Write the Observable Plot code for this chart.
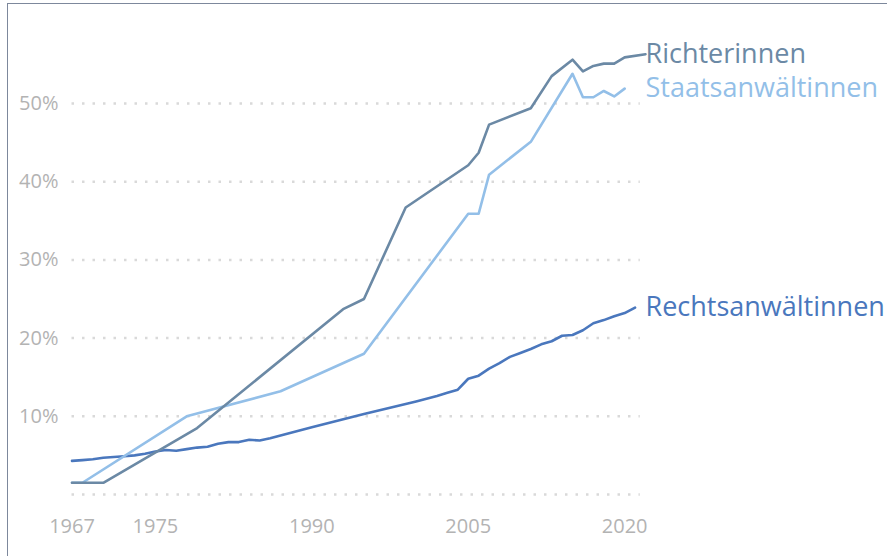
<!DOCTYPE html>
<html>
<head>
<meta charset="utf-8">
<script src="https://cdn.jsdelivr.net/npm/d3@7"></script>
<script src="https://cdn.jsdelivr.net/npm/@observablehq/plot@0.6"></script>
<style>
  html, body { margin: 0; padding: 0; background: #fff; }
  #wrap { position: relative; width: 887px; height: 556px; overflow: hidden; }
  #frame { position: absolute; left: 7px; top: 3px; right: -5px; bottom: -5px;
           border-left: 1.5px solid #7d889c; border-top: 1.5px solid #7d889c; pointer-events: none; }
  svg { display: block; }
</style>
</head>
<body>
<div id="wrap"><div id="frame"></div></div>
<script>
// Richterinnen (judges), share of women in %
const richterYears  = [1967, 1968, 1970, 1979, 1993, 1995, 1999, 2005, 2006, 2007, 2011, 2013, 2015, 2016, 2017, 2018, 2019, 2020, 2022];
const richterValues = [1.5, 1.5, 1.5, 8.5, 23.7, 25.0, 36.7, 42.1, 43.7, 47.3, 49.4, 53.5, 55.6, 54.1, 54.8, 55.1, 55.1, 55.9, 56.3];

// Staatsanwältinnen (prosecutors)
const staatsYears  = [1967, 1968, 1978, 1987, 1995, 2005, 2006, 2007, 2011, 2015, 2016, 2017, 2018, 2019, 2020];
const staatsValues = [1.5, 1.5, 10.0, 13.2, 18.0, 35.9, 35.9, 40.9, 45.1, 53.8, 50.8, 50.8, 51.6, 50.9, 51.9];

// Rechtsanwältinnen (lawyers)
const rechtsYears  = [1967, 1968, 1969, 1970, 1971, 1972, 1973, 1974, 1975, 1976, 1977, 1978, 1979, 1980, 1981, 1982, 1983, 1984, 1985, 1986,
                      1990, 1995, 2000, 2002, 2003, 2004, 2005, 2006, 2007, 2008, 2009, 2010, 2011, 2012, 2013, 2014, 2015, 2016, 2017, 2018, 2019, 2020, 2021];
const rechtsValues = [4.3, 4.4, 4.5, 4.7, 4.8, 4.9, 5.0, 5.2, 5.5, 5.7, 5.6, 5.8, 6.0, 6.1, 6.5, 6.7, 6.7, 7.0, 6.9, 7.2,
                      8.6, 10.3, 11.9, 12.6, 13.0, 13.4, 14.8, 15.2, 16.1, 16.8, 17.6, 18.1, 18.6, 19.2, 19.6, 20.3, 20.4, 21.0, 21.9, 22.3, 22.8, 23.2, 23.9];

const seriesNames  = ["Rechtsanwältinnen", "Staatsanwältinnen", "Richterinnen"];
const seriesColors = ["#4a77bd", "#93bfe8", "#6b89a5"];

const xTicks = [1967, 1975, 1990, 2005, 2020];
const yTicks = [10, 20, 30, 40, 50];
const gridValues = [0, 10, 20, 30, 40, 50];

const toRows = (name, ys, vs) => ys.map((y, i) => ({series: name, year: y, value: vs[i]}));
const rows = [
  ...toRows("Rechtsanwältinnen", rechtsYears, rechtsValues),
  ...toRows("Staatsanwältinnen", staatsYears, staatsValues),
  ...toRows("Richterinnen", richterYears, richterValues)
];
const labelYear = 2022;
const labels = [
  {series: "Richterinnen", year: labelYear, value: richterValues[richterValues.length - 1]},
  {series: "Staatsanwältinnen", year: labelYear, value: staatsValues[staatsValues.length - 1]},
  {series: "Rechtsanwältinnen", year: labelYear, value: rechtsValues[rechtsValues.length - 1]}
];
const grid = gridValues.map(v => ({v, x1: 1967, x2: 2021.5}));

const chart = Plot.plot({
  width: 887,
  height: 556,
  marginLeft: 71,
  marginRight: 242,
  marginBottom: 62,
  marginTop: 25,
  style: {fontFamily: "'Open Sans', sans-serif", background: "transparent"},
  x: {domain: [1967, 2022], range: [71.5, 645], ticks: xTicks, tickFormat: d => String(d)},
  y: {domain: [0, 60], range: [494, 494 - 60 * 7.82], ticks: yTicks, tickFormat: d => d + "%"},
  color: {domain: seriesNames, range: seriesColors},
  marks: [
    Plot.ruleY(grid, {y: "v", x1: "x1", x2: "x2", stroke: "#d9d9d9", strokeWidth: 2.5, strokeDasharray: "2.5 8"}),
    Plot.axisX({ticks: xTicks, tickSize: 0, tickPadding: 24, fontSize: 20, color: "#b3b3b3", label: null, tickFormat: d => String(d)}),
    Plot.axisY({ticks: yTicks, tickSize: 0, tickPadding: 13, fontSize: 20, color: "#b3b3b3", label: null, tickFormat: d => d + "%"}),
    Plot.line(rows, {x: "year", y: "value", z: "series", stroke: "series", strokeWidth: 2.6, strokeLinejoin: "round"}),
    Plot.text(labels, {x: "year", y: "value", text: "series", fill: "series", textAnchor: "start", dx: 0, fontSize: 27})
  ]
});
document.getElementById("wrap").prepend(chart);
</script>
</body>
</html>
